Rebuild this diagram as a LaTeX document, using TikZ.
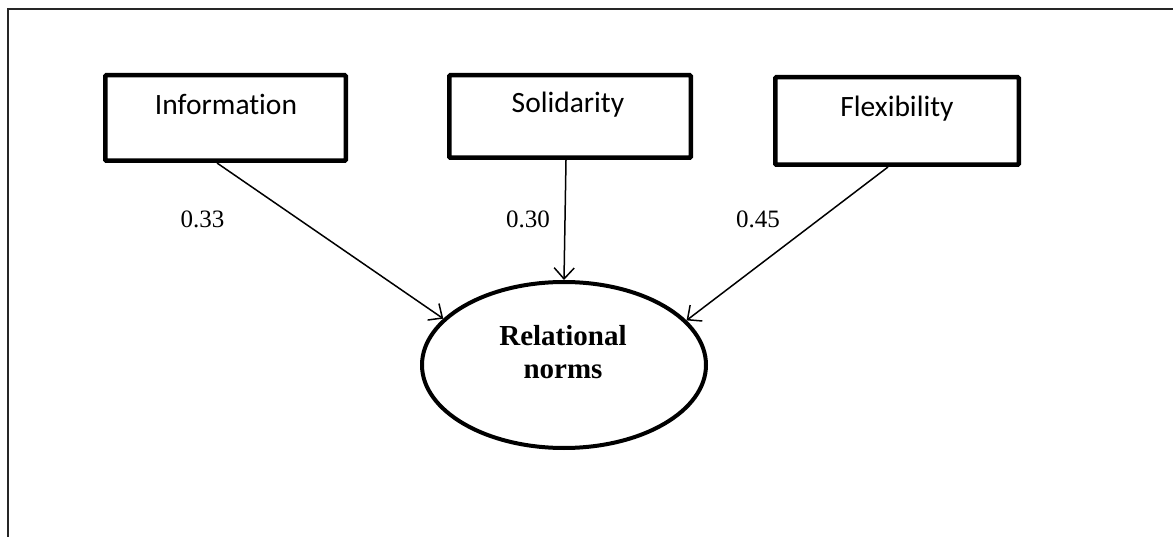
\documentclass[tikz,border=0pt]{standalone}
\usepackage{fontspec}
\setmainfont{Liberation Serif}
\newfontfamily\boxfont[Ligatures=NoCommon]{Carlito}
\usetikzlibrary{arrows.meta,shapes.geometric}
\tikzset{
  varbox/.style={draw, rectangle, line width=4.5pt, rounded corners=1pt, inner sep=0pt},
  boxlabel/.style={font=\boxfont\fontsize{29.5}{33}\selectfont, anchor=base, inner sep=0pt},
  latent/.style={draw, ellipse, line width=4pt, inner sep=0pt, minimum width=284pt, minimum height=166pt},
  latentlabel/.style={font=\bfseries\fontsize{29}{33}\selectfont, align=center, anchor=base, inner sep=0pt},
  coef/.style={font=\fontsize{25}{30}\selectfont, anchor=base, inner sep=0pt},
  path arrow/.style={line width=1.5pt, -{Straight Barb[length=11pt,width=20pt,line width=1.5pt]}},
  frameline/.style={line width=2pt, black!85}
}
\begin{document}
\begin{tikzpicture}[x=1pt,y=-1pt]
\useasboundingbox (0,0) rectangle (1173,537);
\draw[frameline] (7.5,540) -- (7.5,9.5) -- (1176,9.5);

\node[varbox, minimum width=240.5pt, minimum height=85.5pt] (info) at (225.5,118) {};
\node[varbox, minimum width=241.5pt, minimum height=82.5pt] (sol) at (570,116.5) {};
\node[varbox, minimum width=243.5pt, minimum height=87.5pt] (flex) at (897,121) {};

\node[boxlabel] (infot) at (226,115) {Information};
\node[boxlabel] (solt) at (568,113) {Solidarity};
\node[boxlabel] (flext) at (897,117) {Flexibility};

\node[latent] (rel) at (564,365) {};
\node[latentlabel] (relt) at (563,378) {Relational\\norms};

\draw[path arrow] ([xshift=-8.5pt]info.south) -- (rel.159.6);
\draw[path arrow] ([xshift=-4pt]sol.south) -- (rel.north);
\draw[path arrow] ([xshift=-9pt]flex.south) -- (rel.20.6);

\node[coef] (c1) at (202.5,228) {0.33};
\node[coef] (c2) at (528,228) {0.30};
\node[coef] (c3) at (758,228) {0.45};
\end{tikzpicture}
\end{document}
